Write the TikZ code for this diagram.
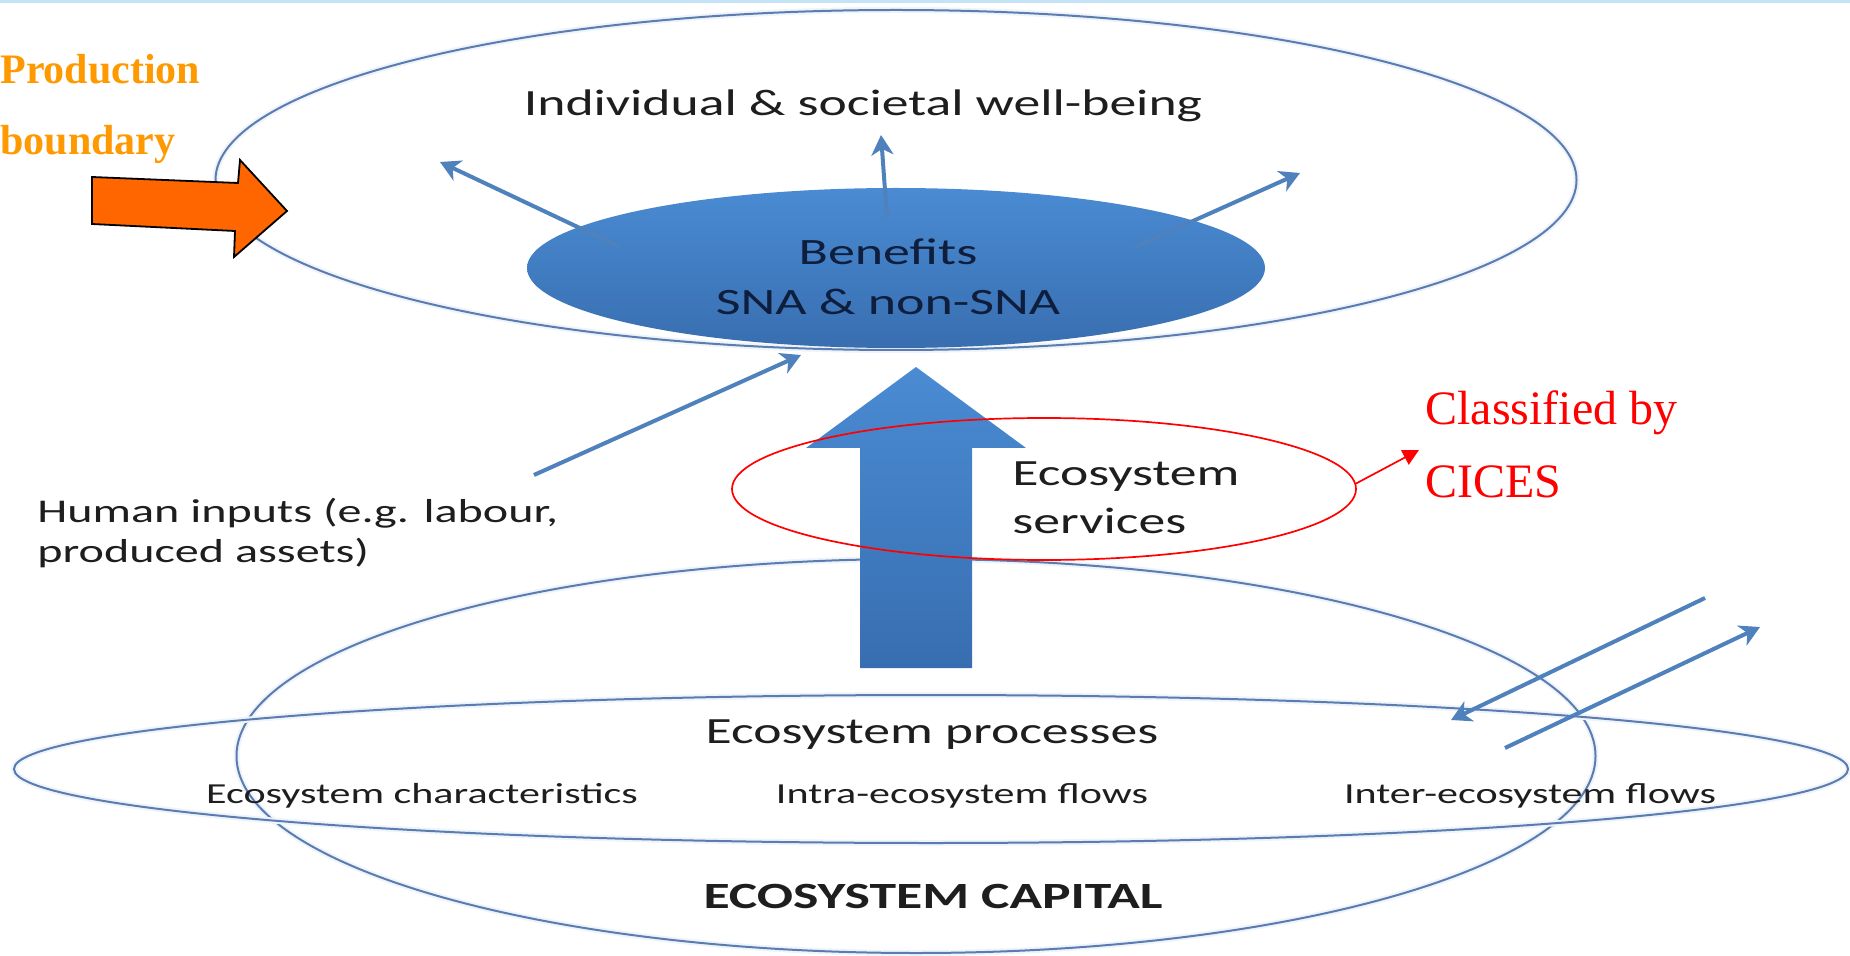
\documentclass[tikz,border=0pt]{standalone}
\usepackage{fontspec}
\usetikzlibrary{arrows.meta,shapes.geometric}
\newfontfamily\calibfont[FakeStretch=1.45]{Carlito}
\newfontfamily\romanfont{Liberation Serif}

\definecolor{outline}{RGB}{92,124,176}
\definecolor{halo}{RGB}{238,244,251}
\definecolor{flowblue}{RGB}{79,129,189}
\definecolor{fillTop}{RGB}{74,139,211}
\definecolor{fillBot}{RGB}{56,110,176}
\definecolor{inktext}{RGB}{30,30,30}
\definecolor{navytext}{RGB}{14,30,60}
\definecolor{annot}{RGB}{255,153,0}
\definecolor{blockorange}{RGB}{255,102,0}
\definecolor{slideline}{RGB}{197,227,246}

\tikzset{
  ring/.style={ellipse, draw=outline, line width=1pt, inner sep=0pt,
    preaction={draw=halo, line width=3pt}},
  flow/.style={draw=flowblue, line width=2pt,
    -{Stealth[length=10pt,width=11pt,inset=3pt]}},
  lbl/.style={font=\calibfont\fontsize{18.5}{22}\selectfont, text=inktext, inner sep=0pt},
  smalllbl/.style={font=\calibfont\fontsize{14.5}{17}\selectfont, text=inktext, inner sep=0pt},
  humanlbl/.style={font=\calibfont\fontsize{16.6}{20}\selectfont, text=inktext, inner sep=0pt},
  benefitlbl/.style={font=\calibfont\fontsize{18.6}{22}\selectfont, text=navytext, inner sep=0pt},
  note/.style={font=\romanfont\fontsize{24}{28}\selectfont, text=red, inner sep=0pt},
  boundarylbl/.style={font=\romanfont\bfseries\fontsize{21}{25}\selectfont, text=annot, inner sep=0pt},
}

\begin{document}
\begin{tikzpicture}[x=0.5pt, y=-0.5pt]
  % canvas
  \fill[white] (0,0) rectangle (1850,956);
  \useasboundingbox (0,0) rectangle (1850,956);
  \fill[slideline] (0,0) rectangle (1850,3);

  % well-being sphere and benefits core
  \node[ring, minimum width=680.5pt, minimum height=170pt] (wellbeing) at (896,180) {};
  \node[ellipse, top color=fillTop, bottom color=fillBot, draw=none,
        minimum width=369pt, minimum height=80pt, inner sep=0pt] (benefits) at (896,268) {};
  \node[benefitlbl, anchor=base] (benefitsA) at (888,265) {Benefits};
  \node[benefitlbl, anchor=base] (benefitsB) at (888,315) {SNA \& non-SNA};
  \node[lbl, anchor=base] (welllbl) at (863,116) {Individual \& societal well-being};

  % flows from benefits to well-being
  \coordinate (bl0) at (620,247); \coordinate (bl1) at (440,162);
  \coordinate (bm0) at (887,218); \coordinate (bm1) at (881,135);
  \coordinate (br0) at (1135,247); \coordinate (br1) at (1300,173);
  \draw[flow] (bl0) -- (bl1);
  \draw[flow] (bm0) -- (bm1);
  \draw[flow] (br0) -- (br1);

  % human inputs
  \node[humanlbl, anchor=base west] (human1) at (37,522) {Human inputs (e.g. labour,};
  \node[humanlbl, anchor=base west] (human2) at (37,562) {produced assets)};
  \coordinate (hi0) at (534,475); \coordinate (hi1) at (801,355);
  \draw[flow] (hi0) -- (hi1);

  % ecosystem capital and processes
  \node[ring, minimum width=679.5pt, minimum height=197pt] (capital) at (916,756) {};
  \node[ring, minimum width=917pt, minimum height=74pt] (processes) at (931,769) {};

  % ecosystem services block arrow
  \shade[top color=fillTop, bottom color=fillBot]
    (916,367) -- (1026,448) -- (972,448) -- (972,668) -- (860,668)
    -- (860,448) -- (806,448) -- cycle;

  \node[lbl, anchor=base] (proclbl) at (932,743) {Ecosystem processes};
  \node[smalllbl, anchor=base] (charlbl) at (422,803) {Ecosystem characteristics};
  \node[smalllbl, anchor=base] (intralbl) at (962,803) {Intra-ecosystem flows};
  \node[smalllbl, anchor=base] (interlbl) at (1530,803) {Inter-ecosystem flows};
  \node[lbl, font=\calibfont\bfseries\fontsize{18.5}{22}\selectfont, anchor=base] (caplbl) at (933,908) {ECOSYSTEM CAPITAL};

  % inter-ecosystem exchange
  \coordinate (ie0) at (1705,598); \coordinate (ie1) at (1451,720);
  \coordinate (ie2) at (1505,748); \coordinate (ie3) at (1760,627);
  \draw[flow] (ie0) -- (ie1);
  \draw[flow] (ie2) -- (ie3);

  % ecosystem services, classified by CICES
  \node[lbl, anchor=base west] (svc1) at (1012,485) {Ecosystem};
  \node[lbl, anchor=base west] (svc2) at (1012,533) {services};
  \node[ellipse, draw=red, line width=0.85pt, inner sep=0pt,
        minimum width=312pt, minimum height=71pt] (svcring) at (1044,489) {};
  \node[note, anchor=base west] (cices1) at (1425,425) {Classified by};
  \node[note, anchor=base west] (cices2) at (1425,497) {CICES};
  \coordinate (citip) at (1419,450);
  \draw[red, line width=0.85pt, -{Triangle[length=8pt,width=8pt]}] (svcring.1.5) -- (citip);

  % production boundary marker
  \node[boundarylbl, anchor=base west] (prod1) at (0,84) {Production};
  \node[boundarylbl, anchor=base west] (prod2) at (0,155) {boundary};
  \draw[fill=blockorange, draw=black, line width=0.9pt, line join=miter]
    (92,177) -- (238,183) -- (240,160) -- (287,211) -- (234,257)
    -- (235,231) -- (92,224) -- cycle;
\end{tikzpicture}
\end{document}
